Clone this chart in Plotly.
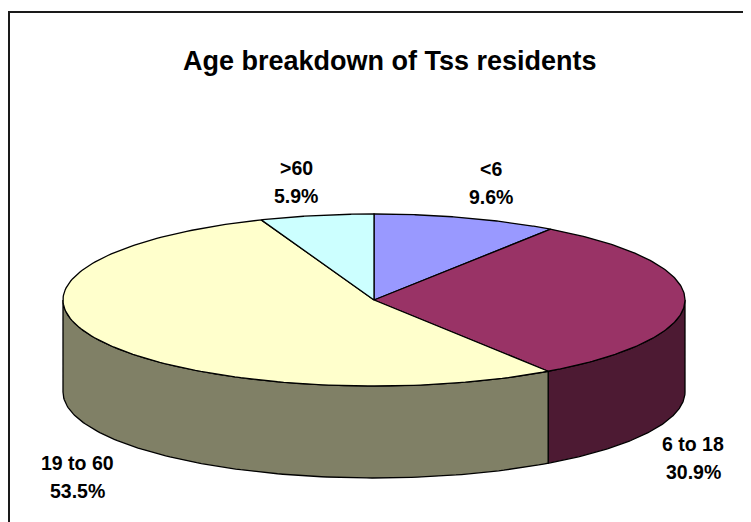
import numpy as np
import plotly.graph_objects as go

categories = ["<6", "6 to 18", "19 to 60", ">60"]
shares = [9.6, 30.9, 53.5, 5.9]
top_colors = ["#9999FF", "#993366", "#FFFFCC", "#CCFFFF"]
side_colors = ["#4D4D80", "#4D1A33", "#808066", "#668080"]

W, H = 751, 522
PAGE_MARGIN = 8
CX, CY, RX, RY, DEPTH = 374, 300, 311, 86, 92


def ell(a):
    return CX + RX * np.sin(a), CY - RY * np.cos(a)


fig = go.Figure()
total = sum(shares)
edges = np.cumsum([0] + shares) / total * 2 * np.pi


def poly(x, y, color):
    fig.add_trace(go.Scatter(x=list(x), y=list(y), mode="lines", fill="toself",
                             fillcolor=color, line=dict(color="black", width=1.3),
                             hoverinfo="skip", showlegend=False))


# side walls: visible only on the front half (angles 90..270 degrees)
for i in range(len(shares)):
    a0 = max(edges[i], np.pi / 2)
    a1 = min(edges[i + 1], 3 * np.pi / 2)
    if a1 > a0:
        t = np.linspace(a0, a1, 120)
        x, y = ell(t)
        poly(np.r_[x, x[::-1], x[0]], np.r_[y, y[::-1] + DEPTH, y[0]], side_colors[i])

# top faces
for i in range(len(shares)):
    t = np.linspace(edges[i], edges[i + 1], 160)
    x, y = ell(t)
    poly(np.r_[CX, x, CX], np.r_[CY, y, CY], top_colors[i])

FAMILY = "Liberation Sans, Arial, sans-serif"
font = dict(family=FAMILY, size=19.5, color="black")
label_pos = {"<6": (491, 183), "6 to 18": (693, 458), "19 to 60": (77, 477), ">60": (296, 182)}
anns = []
for c, s in zip(categories, shares):
    lx, ly = label_pos[c]
    for text, dy in ((c.replace("<", "&lt;"), -14), (f"{s:.1f}%", 14)):
        anns.append(dict(x=lx, y=ly + dy, xref="x", yref="y", showarrow=False,
                         text=f"<b>{text}</b>", font=font))
anns.append(dict(x=389.5, y=61, xref="x", yref="y", showarrow=False,
                 text="<b>Age breakdown of Tss residents</b>",
                 font=dict(family=FAMILY, size=27, color="black")))

fig.update_layout(
    width=W - PAGE_MARGIN, height=H - PAGE_MARGIN, margin=dict(l=0, r=0, t=0, b=0),
    paper_bgcolor="white", plot_bgcolor="white", autosize=False,
    xaxis=dict(range=[PAGE_MARGIN, W], visible=False, fixedrange=True),
    yaxis=dict(range=[H, PAGE_MARGIN], visible=False, fixedrange=True),
    annotations=anns,
    shapes=[dict(type="rect", xref="x", yref="y", x0=9, y0=12, x1=W + 20, y1=H + 20,
                 line=dict(color="#1a1a1a", width=2), layer="below")],
)
fig.write_html("out.html", config={"displayModeBar": False})
